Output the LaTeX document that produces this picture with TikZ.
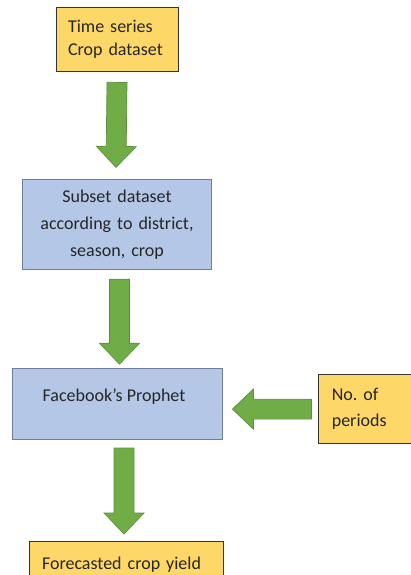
\documentclass[tikz,border=0pt]{standalone}
\usepackage{fontspec}
\setmainfont{Carlito}
\usetikzlibrary{positioning,calc}

\definecolor{boxyellow}{HTML}{FDD868}
\definecolor{boxblue}{HTML}{B4C7E7}
\definecolor{blueedge}{HTML}{6F7F99}
\definecolor{arrowgreen}{HTML}{70AD47}
\definecolor{arrowedge}{HTML}{5B8F3A}
\definecolor{inktext}{HTML}{262626}

\newcommand{\shafthw}{10pt}
\newcommand{\winghw}{20pt}
\newcommand{\headlen}{21pt}

\tikzset{
  yellowbox/.style={draw=black!80, fill=boxyellow, line width=0.8pt,
    text=inktext, inner xsep=12pt, align=left},
  bluebox/.style={draw=blueedge, fill=boxblue, line width=0.8pt,
    text=inktext, align=center},
  fatarrow/.style={fill=arrowgreen, draw=arrowedge, line width=0.7pt,
    to path={
      ($(\tikztostart)!\shafthw!90:(\tikztotarget)$)
      -- ($($(\tikztotarget)!\headlen!(\tikztostart)$)!\shafthw!90:(\tikztotarget)$)
      -- ($($(\tikztotarget)!\headlen!(\tikztostart)$)!\winghw!90:(\tikztotarget)$)
      -- (\tikztotarget)
      -- ($($(\tikztotarget)!\headlen!(\tikztostart)$)!\winghw!-90:(\tikztotarget)$)
      -- ($($(\tikztotarget)!\headlen!(\tikztostart)$)!\shafthw!-90:(\tikztotarget)$)
      -- ($(\tikztostart)!\shafthw!-90:(\tikztotarget)$)
      -- cycle}}
}

\begin{document}
\begin{tikzpicture}[x=1pt, y=1pt, font=\fontsize{18}{23}\selectfont\frenchspacing]
  \useasboundingbox (0,0) rectangle (411,-575);

  \node[yellowbox, text width=98pt, minimum height=64pt] (ts) at (117,-39)
    {Time series\\Crop dataset};

  \node[bluebox, text width=182pt, minimum height=90pt, below=108pt of ts,
    font=\fontsize{18}{27}\selectfont] (sub)
    {Subset dataset\\according to district,\\season, crop};

  \node[bluebox, minimum width=210pt, minimum height=71pt, below=98pt of sub,
    label={[text=inktext, xshift=-3pt, yshift=7.5pt]center:Facebook’s Prophet}] (fb) {};

  \node[yellowbox, inner xsep=13pt, text width=70pt, minimum height=69pt,
    right=96pt of fb, yshift=-5pt, font=\fontsize{18}{26}\selectfont] (np)
    {No.\ of\\periods};

  \node[yellowbox, inner xsep=13pt, text width=168pt, minimum height=46pt,
    below=101pt of fb, xshift=9pt] (fc) {Forecasted crop yield};

  % block arrows between the boxes
  \draw[fatarrow] ($(ts.south)+(0,-11pt)$) to ($(sub.north)+(-1pt,12pt)$);
  \draw[fatarrow] ($(sub.south)+(2.5pt,-9pt)$) to ($(fb.north)+(2.5pt,4pt)$);
  \draw[fatarrow] ($(np.west)+(-7pt,0)$) to ($(fb.east |- np.west)+(10pt,0)$);
  \draw[fatarrow] ($(fb.south)+(7pt,-8pt)$) to ($(fc.north)+(-2pt,7pt)$);
\end{tikzpicture}
\end{document}
